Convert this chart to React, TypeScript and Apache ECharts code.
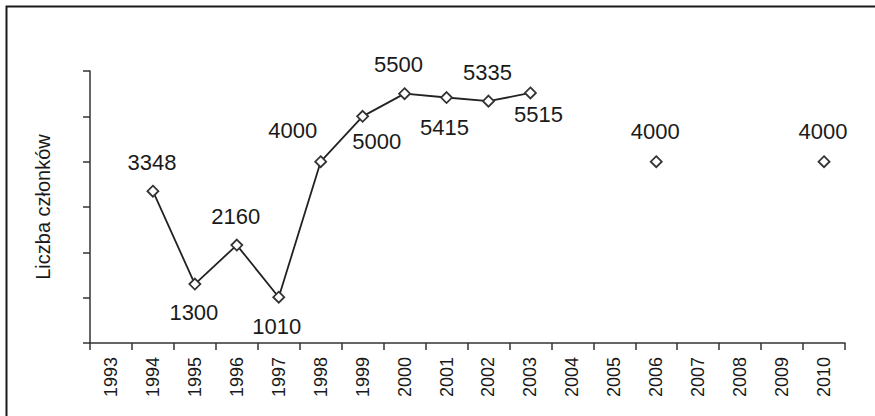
import React, { useEffect, useRef } from "react";
import * as echarts from "echarts";

const years = ["1993","1994","1995","1996","1997","1998","1999","2000","2001","2002","2003","2004","2005","2006","2007","2008","2009","2010"];
const members: (number | null)[] = [null, 3348, 1300, 2160, 1010, 4000, 5000, 5500, 5415, 5335, 5515, null, null, 4000, null, null, null, 4000];
const yTitle = "Liczba członków";

// label offsets (dx, dy) relative to each point, by year
const labelOffsets: Record<string, [number, number]> = {
  "1994": [-1, -29],
  "1995": [-1, 28],
  "1996": [-1, -29],
  "1997": [-2, 29],
  "1998": [-28, -31],
  "1999": [14, 25],
  "2000": [-6, -29],
  "2001": [-2, 30],
  "2002": [-1, -29],
  "2003": [8, 22],
  "2006": [-1, -30],
  "2010": [-1, -30],
};

const FONT = "'Liberation Sans', Arial, sans-serif";

export default function App() {
  const ref = useRef<HTMLDivElement>(null);
  useEffect(() => {
    if (!ref.current) return;
    const chart = echarts.init(ref.current, undefined, { renderer: "svg" });
    const data = members.map((v, i) => {
      if (v === null) return null;
      const off = labelOffsets[years[i]] || [0, -28];
      return {
        value: v,
        label: { show: true, position: "inside", offset: off },
      };
    });
    chart.setOption({
      animation: false,
      backgroundColor: "#ffffff",
      grid: { left: 90, right: 30, top: 71, bottom: 73, containLabel: false },
      graphic: [
        {
          type: "rect",
          shape: { x: 6.5, y: 6.5, width: 900, height: 500 },
          style: { fill: "none", stroke: "#1a1a1a", lineWidth: 2 },
          silent: true,
        },
      ],
      xAxis: {
        type: "category",
        data: years,
        boundaryGap: true,
        axisLine: { show: true, lineStyle: { color: "#333", width: 1.5 } },
        axisTick: { show: true, length: 7, lineStyle: { color: "#333", width: 1.5 } },
        axisLabel: {
          rotate: 90,
          margin: 14,
          interval: 0,
          fontSize: 18,
          fontFamily: FONT,
          color: "#1a1a1a",
        },
        splitLine: { show: false },
      },
      yAxis: {
        type: "value",
        min: 0,
        max: 6000,
        interval: 1000,
        name: yTitle,
        nameLocation: "middle",
        nameRotate: 90,
        nameGap: 37,
        nameTextStyle: { fontSize: 20, fontFamily: FONT, color: "#1a1a1a" },
        axisLine: { show: true, lineStyle: { color: "#333", width: 1.5 } },
        axisTick: { show: true, length: 7, lineStyle: { color: "#333", width: 1.5 } },
        axisLabel: { show: false },
        splitLine: { show: false },
      },
      series: [
        {
          type: "line",
          data,
          connectNulls: false,
          symbol: "diamond",
          symbolSize: 11,
          showSymbol: true,
          showAllSymbol: true,
          lineStyle: { color: "#222", width: 1.8 },
          itemStyle: { color: "#ffffff", borderColor: "#333", borderWidth: 1.8 },
          label: {
            show: true,
            fontSize: 22,
            fontFamily: FONT,
            color: "#1a1a1a",
          },
          emphasis: { disabled: true },
        },
      ],
    });
    return () => chart.dispose();
  }, []);
  return (
    <div
      ref={ref}
      style={{ position: "fixed", left: 0, top: 0, width: 875, height: 416, background: "#fff" }}
    />
  );
}
